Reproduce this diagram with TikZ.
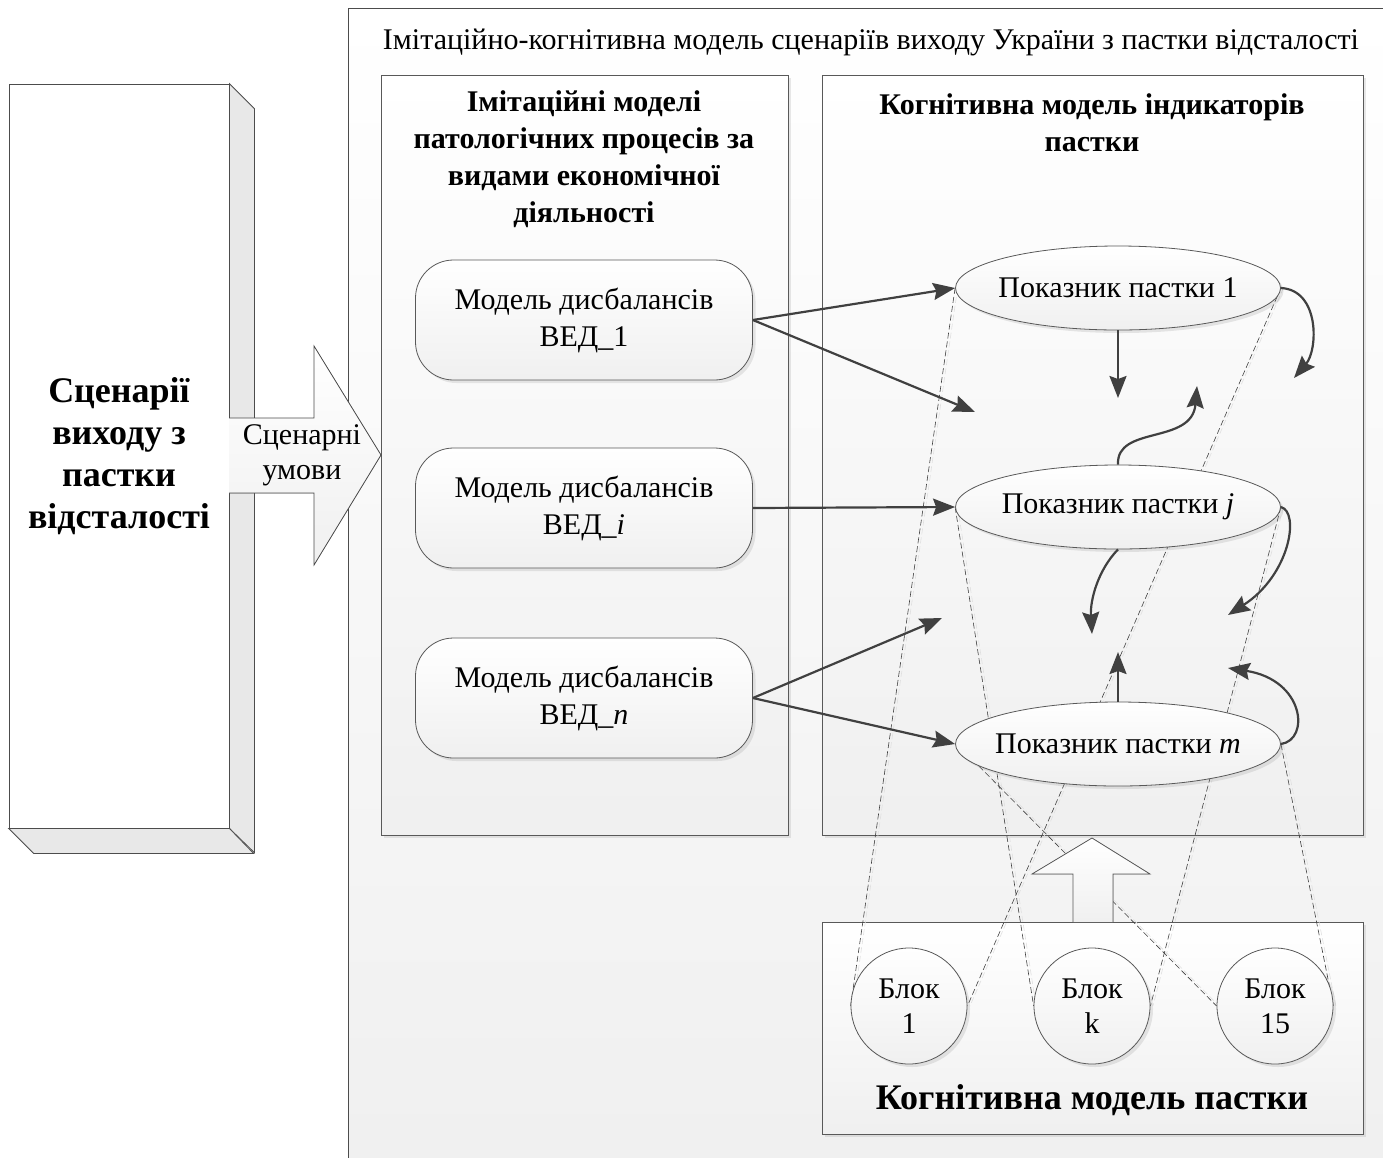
\documentclass[tikz,border=0pt]{standalone}
\usepackage{fontspec}
\setmainfont{Liberation Serif}
\usetikzlibrary{arrows.meta,shapes.geometric,shadows,positioning}

\pgfdeclarelayer{back}
\pgfdeclarelayer{trace}
\pgfsetlayers{back,trace,main}

\tikzset{
  frame/.style={draw=black!65,line width=0.8pt,top color=white,bottom color=black!6},
  softshadow/.style={drop shadow={opacity=0.18,shadow xshift=3pt,shadow yshift=-3pt}},
  panel/.style={frame,softshadow,anchor=north west},
  vedbox/.style={frame,softshadow,rounded corners=38pt,minimum width=337pt,minimum height=120pt,
    align=center,font=\fontsize{30}{37}\selectfont},
  indic/.style={frame,softshadow,ellipse,minimum width=325pt,minimum height=84pt,inner xsep=-14pt,inner ysep=0pt,
    font=\fontsize{30}{34}\selectfont},
  blok/.style={frame,softshadow,circle,minimum size=116pt,inner sep=0pt,align=center,
    font=\fontsize{30}{35}\selectfont},
  head/.style={align=center,font=\bfseries\fontsize{30}{37}\selectfont},
  link/.style={-{Stealth[length=22pt,width=17pt,inset=3pt]},line width=2.2pt,draw=black!75},
  trace/.style={draw=black!75,line width=0.6pt,dash pattern=on 6pt off 3pt,
    preaction={draw=black!12,line width=0.6pt,dash pattern=on 6pt off 3pt,transform canvas={xshift=2.5pt}}},
}

\begin{document}
\begin{tikzpicture}[x=1pt,y=-1pt,node distance=183pt]
  \useasboundingbox (0,0) rectangle (1383,1157);
  \begin{pgfonlayer}{back}
  % outer frame and title
  \path[frame,draw=black!70] (348,8) rectangle (1400,1175);
  \node (title) at (871,42) {\fontsize{30}{34}\selectfont Імітаційно-когнітивна модель сценаріїв виходу України з пастки відсталості};
  % scenario block
  \node (scen) [draw=black!70,fill=white,line width=0.8pt,minimum width=220pt,minimum height=744pt,align=center,
    font=\bfseries\fontsize{36}{42}\selectfont] at (119,456) {Сценарії\\виходу з\\пастки\\відсталості};
  \filldraw[draw=black!70,fill=black!9,line width=0.8pt] (scen.north east) -- ++(25,25) -- ++(0,744) -- (scen.south east) -- cycle;
  \filldraw[draw=black!70,fill=black!9,line width=0.8pt] (scen.south west) -- ++(25,25) -- ++(220,0) -- (scen.south east) -- cycle;
  % panels
  \node (imit) [panel,minimum width=407pt,minimum height=760pt] at (381,75) {};
  \node (kogn) [panel,minimum width=541pt,minimum height=760pt] at (822,75) {};
  \node (pastka) [panel,minimum width=541pt,minimum height=212pt] at (822,922) {};
  \node (imithead) [head] at (584,159) {Імітаційні моделі\\патологічних процесів за\\видами економічної\\діяльності};
  \node (kognhead) [head] at (1092,123) {Когнітивна модель індикаторів\\пастки};
  \node (pastkahead) [font=\bfseries\fontsize{36}{40}\selectfont] at (1092,1100) {Когнітивна модель пастки};
  \end{pgfonlayer}

  % scenario conditions
  \fill[top color=white,bottom color=black!6] (229,418) -- (314,418) -- (314,346) -- (381,455) -- (314,565) -- (314,493) -- (229,493) -- cycle;
  \draw[draw=black!70,line width=0.8pt] (229,418) -- (314,418) -- (314,346) -- (381,455) -- (314,565) -- (314,493) -- (229,493);
  \node (umovy) [align=center,font=\fontsize{30}{35}\selectfont] at (302,455) {Сценарні\\умови};

  \node (ved1) [vedbox] at (584,320) {Модель дисбалансів\\ВЕД\_1};
  \node (vedi) [vedbox] at (584,508) {Модель дисбалансів\\ВЕД\_\textit{i}};
  \node (vedn) [vedbox] at (584,698) {Модель дисбалансів\\ВЕД\_\textit{n}};

  \node (pok1) [indic] at (1118,288) {Показник пастки 1};
  \node (pokj) [indic] at (1118,507) {Показник пастки \textit{j}};
  \node (pokm) [indic] at (1118,744) {Показник пастки \textit{m}};

  \node (blk1) [blok] at (909,1006) {Блок\\1};
  \node (blkk) [blok,right of=blk1] {Блок\\k};
  \node (blk15) [blok,right of=blkk] {Блок\\15};

  % up arrow
  \filldraw[frame] (1073,922) -- (1073,874) -- (1032,874) -- (1092,838) -- (1150,874) -- (1113,874) -- (1113,922);

  \begin{pgfonlayer}{trace}
  \draw[trace] (pok1.west) -- (blk1.west);
  \draw[trace] (pok1.east) -- (blk1.east);
  \draw[trace] (pokj.west) -- (blkk.west);
  \draw[trace] (pokj.east) -- (blkk.east);
  \draw[trace] (pokm.189) -- (blk15.west);
  \draw[trace] (pokm.east) -- (blk15.east);
  \end{pgfonlayer}

  \coordinate (a1) at (975,412);
  \coordinate (an) at (942,618);
  \draw[link] (ved1.east) -- (pok1.west);
  \draw[link] (ved1.east) -- (a1);
  \draw[link] (vedi.east) -- (pokj.west);
  \draw[link] (vedn.east) -- (an);
  \draw[link] (vedn.east) -- (pokm.west);

  \coordinate (f1) at (1118,398);
  \coordinate (f2) at (1197,386);
  \coordinate (f3) at (1294,378);
  \coordinate (f4) at (1092,634);
  \coordinate (f5) at (1228,615);
  \coordinate (f6) at (1118,652);
  \coordinate (f7) at (1228,668);
  \draw[link] (pok1.south) -- (f1);
  \draw[link] (pokj.north) .. controls (1116,425) and (1192,445) .. (f2);
  \draw[link] (pok1.east) .. controls (1320,290) and (1318,350) .. (f3);
  \draw[link] (pokj.south) .. controls (1098,570) and (1090,600) .. (f4);
  \draw[link] (pokj.east) .. controls (1300,512) and (1290,575) .. (f5);
  \draw[link] (pokm.north) -- (f6);
  \draw[link] (pokm.east) .. controls (1310,740) and (1305,680) .. (f7);
\end{tikzpicture}
\end{document}
